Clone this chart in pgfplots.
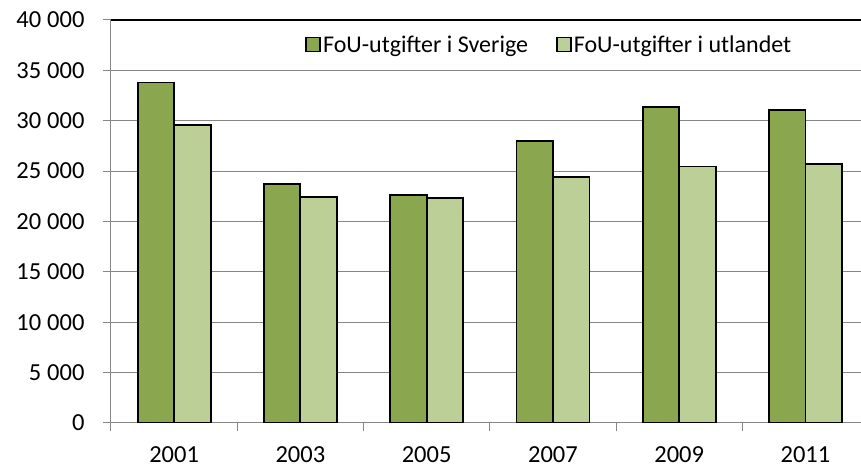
\documentclass[border=0pt]{standalone}
\usepackage{fontspec}
\setmainfont{Carlito}
\usepackage{pgfplots}
\pgfplotsset{compat=1.18}
\definecolor{dg}{HTML}{8AA64F}
\definecolor{lg}{HTML}{BBCF97}
\definecolor{gl}{HTML}{868686}
\begin{document}
\begin{tikzpicture}[x=1pt,y=1pt]
\begin{axis}[
  at={(0,0)}, anchor=south west,
  scale only axis, width=750pt, height=403pt,
  ybar=0pt, bar width=36.5pt,
  xmin=-0.5, xmax=5.44, ymin=0, ymax=40000,
  xtick={0,...,5}, xticklabels={2001,2003,2005,2007,2009,2011},
  major x tick style={draw=none},
  minor xtick={-0.5,0.5,1.5,2.5,3.5,4.5},
  ytick={0,5000,...,40000},
  ymajorgrids, grid style={gl, line width=1pt},
  axis x line*=bottom, axis y line*=left,
  axis line style={gl, line width=1pt},
  tick style={gl, line width=1pt},
  major tick length=8pt, minor tick length=8pt,
  tick align=outside,
  scaled y ticks=false,
  tick label style={font=\fontsize{24.5}{28}\selectfont, text=black},
  yticklabel style={xshift=-15pt, /pgf/number format/.cd, 1000 sep={\hspace{0.24em}}, assume math mode=true},
  xticklabel style={yshift=-12pt},
  extra y ticks={40000}, extra y tick labels={},
  extra y tick style={grid style={black, line width=1.5pt}},
  legend style={at={(0.914,0.972)}, anchor=north east, draw=none, fill=none,
    font=\fontsize{24}{27}\selectfont, legend columns=2,
    /tikz/every even column/.append style={column sep=26pt}},
  legend image code/.code={\draw[#1, draw=black, line width=1.8pt] (0pt,-7pt) rectangle (14pt,7pt);},
]
\addplot[fill=dg, draw=black, line width=1.8pt] coordinates {(0,33800) (1,23750) (2,22650) (3,28000) (4,31350) (5,31050)};
\addplot[fill=lg, draw=black, line width=1.8pt] coordinates {(0,29600) (1,22450) (2,22300) (3,24400) (4,25450) (5,25700)};
\legend{FoU-utgifter i Sverige, FoU-utgifter i utlandet}
\end{axis}
\pgfresetboundingbox
\useasboundingbox (-111,-47) rectangle (750,423);
\end{tikzpicture}
\end{document}
